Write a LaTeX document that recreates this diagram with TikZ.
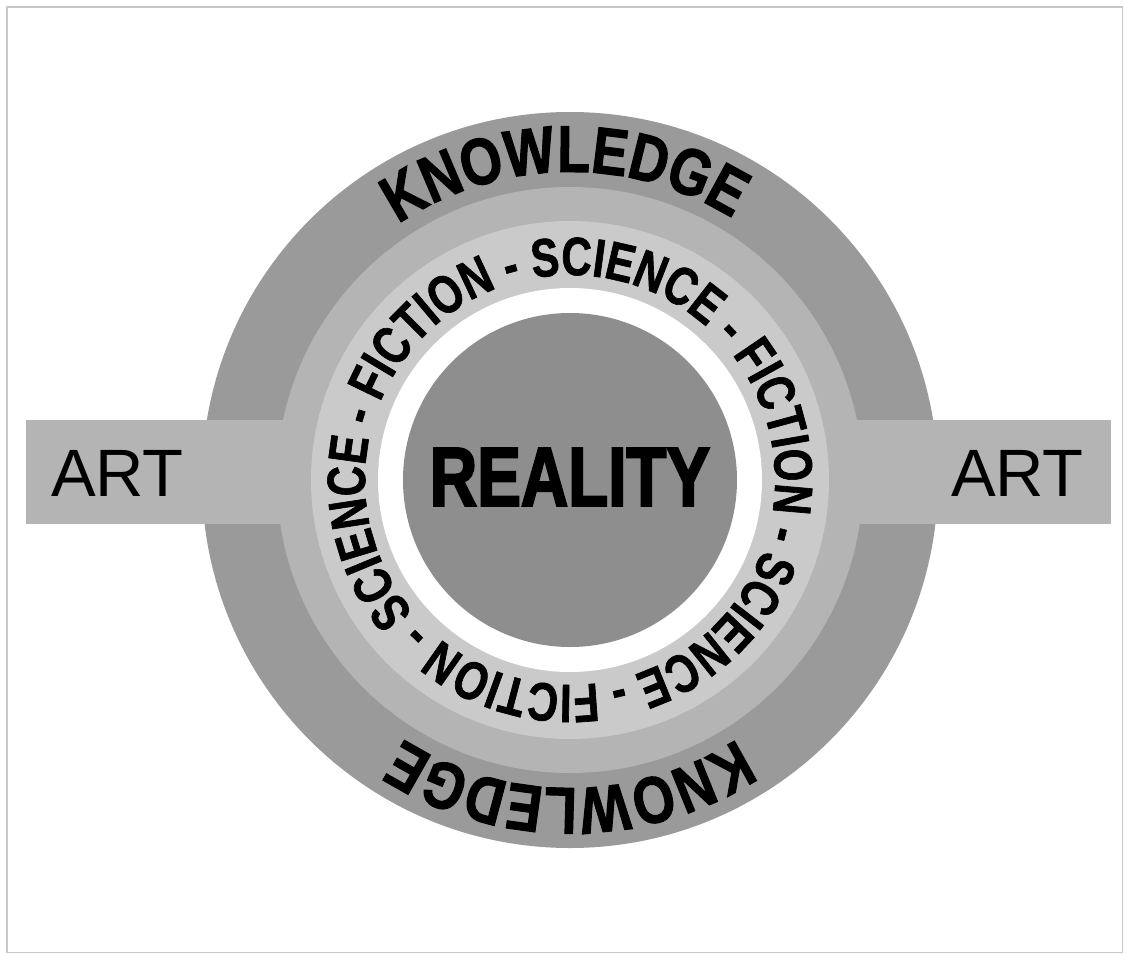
\documentclass[tikz,border=0pt]{standalone}
\usepackage{fontspec}
\setmainfont{Liberation Sans}
\newfontfamily\knowfam[FakeStretch=0.81,FakeBold=1.6]{Liberation Sans Bold}
\newfontfamily\scifam[FakeStretch=0.778,FakeBold=1.2]{Liberation Sans Bold}
\newfontfamily\realfam[FakeStretch=0.78,FakeBold=2.4]{Liberation Sans Bold}
\newcommand\knowfont{\knowfam\fontsize{66}{66}\selectfont}
\newcommand\scifont{\scifam\fontsize{54}{54}\selectfont}
\newcommand\realfont{\realfam\fontsize{84}{84}\selectfont}
\newcommand\artfont{\fontsize{67}{67}\selectfont}
\usetikzlibrary{decorations.text}
\definecolor{ringdark}{HTML}{9A9A9A}
\definecolor{ringmid}{HTML}{B4B4B4}
\definecolor{ringlight}{HTML}{CACACA}
\definecolor{coregray}{HTML}{8E8E8E}
\definecolor{framegray}{HTML}{C8C8C8}
\tikzset{
  artlabel/.style={font=\artfont, text=black, inner sep=0pt},
  reallabel/.style={font=\realfont, text=black, inner sep=0pt},
  ringtext/.style={decorate, decoration={text along path, text color=black, #1}}
}
\begin{document}
\begin{tikzpicture}[x=1pt,y=1pt]
\useasboundingbox (-570,-474) rectangle (556,480);
\fill[white] (-570,-474) rectangle (556,480);
\draw[framegray, line width=1.5pt] (-563,-472.5) rectangle (552.5,473);
% rings
\fill[ringdark] (0,0) circle[radius=368pt];
\fill[ringmid] (-544,-44) rectangle (541,60);
\fill[ringmid] (0,0) circle[radius=293pt];
\fill[ringlight] (0,0) circle[radius=259pt];
\fill[white] (0,0) circle[radius=192pt];
\fill[coregray] (0,0) circle[radius=167pt];
% KNOWLEDGE top and bottom
\path[ringtext={text align=center, text={|\knowfont|KNOWLEDGE}}]
  (151:308pt) arc[start angle=151, end angle=31, radius=308pt];
\path[ringtext={text align=center, text={|\knowfont|KNOWLEDGE}}]
  (-30:308pt) arc[start angle=-30, end angle=-150, radius=308pt];
% SCIENCE - FICTION ring
\path[ringtext={text align=left, text={|\scifont|SCIENCE - FICTION - SCIENCE - FICTION - SCIENCE - FICTION -}}]
  (220.4:205pt) arc[start angle=220.4, end angle=-146, radius=205pt];
% labels
\node[reallabel] (reality) at (0,3) {REALITY};
\node[artlabel] (artL) at (-452.5,7) {ART};
\node[artlabel] (artR) at (447.5,7) {ART};
\end{tikzpicture}
\end{document}
